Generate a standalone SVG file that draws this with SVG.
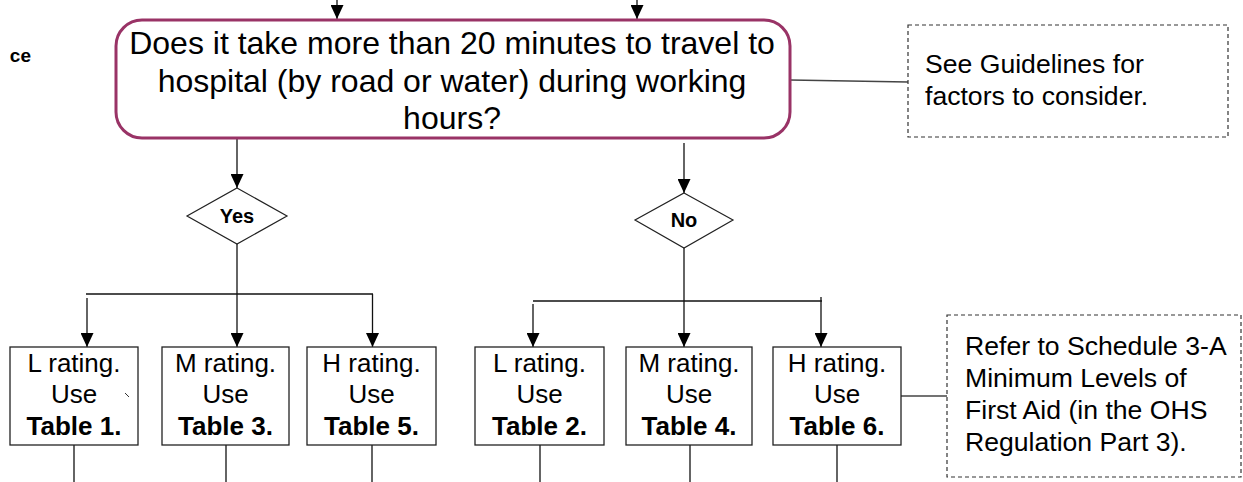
<svg xmlns="http://www.w3.org/2000/svg" width="1243" height="482" viewBox="0 0 1243 482">
  <defs>
    <marker id="arr" markerWidth="14" markerHeight="13" refX="14" refY="6.5" orient="auto" markerUnits="userSpaceOnUse">
      <path d="M0,0 L14,6.5 L0,13 Z" fill="#000"/>
    </marker>
    <style>
      text { font-family: "Liberation Sans", Arial, sans-serif; fill: #000; }
      .main { font-size: 32px; text-anchor: middle; }
      .box { fill: #fff; stroke: #222; stroke-width: 1.3; }
      .bt { font-size: 26px; text-anchor: middle; }
      .b { font-weight: bold; }
      .note { fill: #fff; stroke: #333; stroke-width: 1.2; stroke-dasharray: 4 3; }
      .nt { font-size: 26.6px; }
      .dia { fill: #fff; stroke: #222; stroke-width: 1.2; }
      .dt { font-size: 20px; font-weight: bold; text-anchor: middle; }
      .c { fill: none; stroke: #111; stroke-width: 1.3; }
      .cg { fill: none; stroke: #444; stroke-width: 1.3; }
    </style>
  </defs>
  <rect width="1243" height="482" fill="#fff"/>

  <g id="connectors">
    <line class="c" x1="337" y1="0" x2="337" y2="19" marker-end="url(#arr)"/>
    <line class="c" x1="637" y1="0" x2="637" y2="19" marker-end="url(#arr)"/>
    <line class="cg" x1="790" y1="80" x2="908" y2="82"/>
    <line class="c" x1="237" y1="139" x2="237" y2="188" marker-end="url(#arr)"/>
    <line class="c" x1="684" y1="143" x2="684" y2="193" marker-end="url(#arr)"/>
    <line class="c" x1="237" y1="243" x2="237" y2="347" marker-end="url(#arr)"/>
    <line class="c" x1="86" y1="294" x2="373" y2="294"/>
    <line class="c" x1="87" y1="298" x2="87" y2="347" marker-end="url(#arr)"/>
    <line class="c" x1="372.5" y1="294" x2="372.5" y2="347" marker-end="url(#arr)"/>
    <line class="c" x1="684" y1="248" x2="684" y2="347" marker-end="url(#arr)"/>
    <line class="c" x1="533" y1="301" x2="822" y2="301"/>
    <line class="c" x1="533" y1="304" x2="533" y2="347" marker-end="url(#arr)"/>
    <line class="c" x1="821" y1="297" x2="821" y2="347" marker-end="url(#arr)"/>
    <line class="cg" x1="901" y1="396" x2="947" y2="396"/>
    <line class="c" x1="74" y1="445" x2="74" y2="482"/>
    <line class="c" x1="226" y1="445" x2="226" y2="482"/>
    <line class="c" x1="372" y1="445" x2="372" y2="482"/>
    <line class="c" x1="540" y1="445" x2="540" y2="482"/>
    <line class="c" x1="690" y1="445" x2="690" y2="482"/>
    <line class="c" x1="837" y1="445" x2="837" y2="482"/>
  </g>

  <g id="side-label">
    <text x="31" y="62" font-size="19" font-weight="bold" text-anchor="end">ce</text>
  </g>

  <g id="question">
    <rect x="116" y="20" width="674" height="118" rx="26" ry="26" fill="#fff" stroke="#993366" stroke-width="3"/>
    <text class="main" x="452" y="54">Does it take more than 20 minutes to travel to</text>
    <text class="main" x="452" y="91.5">hospital (by road or water) during working</text>
    <text class="main" x="452" y="129">hours?</text>
  </g>

  <g id="note-guidelines">
    <rect class="note" x="908" y="25" width="320" height="112"/>
    <text class="nt" x="925" y="73">See Guidelines for</text>
    <text class="nt" x="925" y="105">factors to consider.</text>
  </g>

  <g id="yes">
    <polygon class="dia" points="237,188 287,216 237,244 187,216"/>
    <text class="dt" x="237" y="223">Yes</text>
  </g>

  <g id="no">
    <polygon class="dia" points="684,193 733,220 684,248 635,220"/>
    <text class="dt" x="684" y="227">No</text>
  </g>

  <g id="l-table1">
    <rect class="box" x="10" y="347" width="128" height="98"/>
    <text class="bt" x="74" y="372">L rating.</text>
    <text class="bt" x="74" y="403">Use</text>
    <text class="bt b" x="74" y="435">Table 1.</text>
    <line x1="125" y1="393" x2="129" y2="397" stroke="#333" stroke-width="1"/>
  </g>
  <g id="m-table3">
    <rect class="box" x="162" y="347" width="127" height="98"/>
    <text class="bt" x="225.5" y="372">M rating.</text>
    <text class="bt" x="225.5" y="403">Use</text>
    <text class="bt b" x="225.5" y="435">Table 3.</text>
  </g>
  <g id="h-table5">
    <rect class="box" x="307" y="347" width="129" height="98"/>
    <text class="bt" x="371.5" y="372">H rating.</text>
    <text class="bt" x="371.5" y="403">Use</text>
    <text class="bt b" x="371.5" y="435">Table 5.</text>
  </g>
  <g id="l-table2">
    <rect class="box" x="475" y="347" width="129" height="98"/>
    <text class="bt" x="539.5" y="372">L rating.</text>
    <text class="bt" x="539.5" y="403">Use</text>
    <text class="bt b" x="539.5" y="435">Table 2.</text>
  </g>
  <g id="m-table4">
    <rect class="box" x="626" y="347" width="126" height="98"/>
    <text class="bt" x="689" y="372">M rating.</text>
    <text class="bt" x="689" y="403">Use</text>
    <text class="bt b" x="689" y="435">Table 4.</text>
  </g>
  <g id="h-table6">
    <rect class="box" x="773" y="347" width="128" height="98"/>
    <text class="bt" x="837" y="372">H rating.</text>
    <text class="bt" x="837" y="403">Use</text>
    <text class="bt b" x="837" y="435">Table 6.</text>
  </g>

  <g id="note-schedule">
    <rect class="note" x="947" y="315" width="294" height="162"/>
    <text class="nt" x="965" y="355">Refer to Schedule 3-A</text>
    <text class="nt" x="965" y="387">Minimum Levels of</text>
    <text class="nt" x="965" y="419">First Aid (in the OHS</text>
    <text class="nt" x="965" y="451">Regulation Part 3).</text>
  </g>
</svg>
